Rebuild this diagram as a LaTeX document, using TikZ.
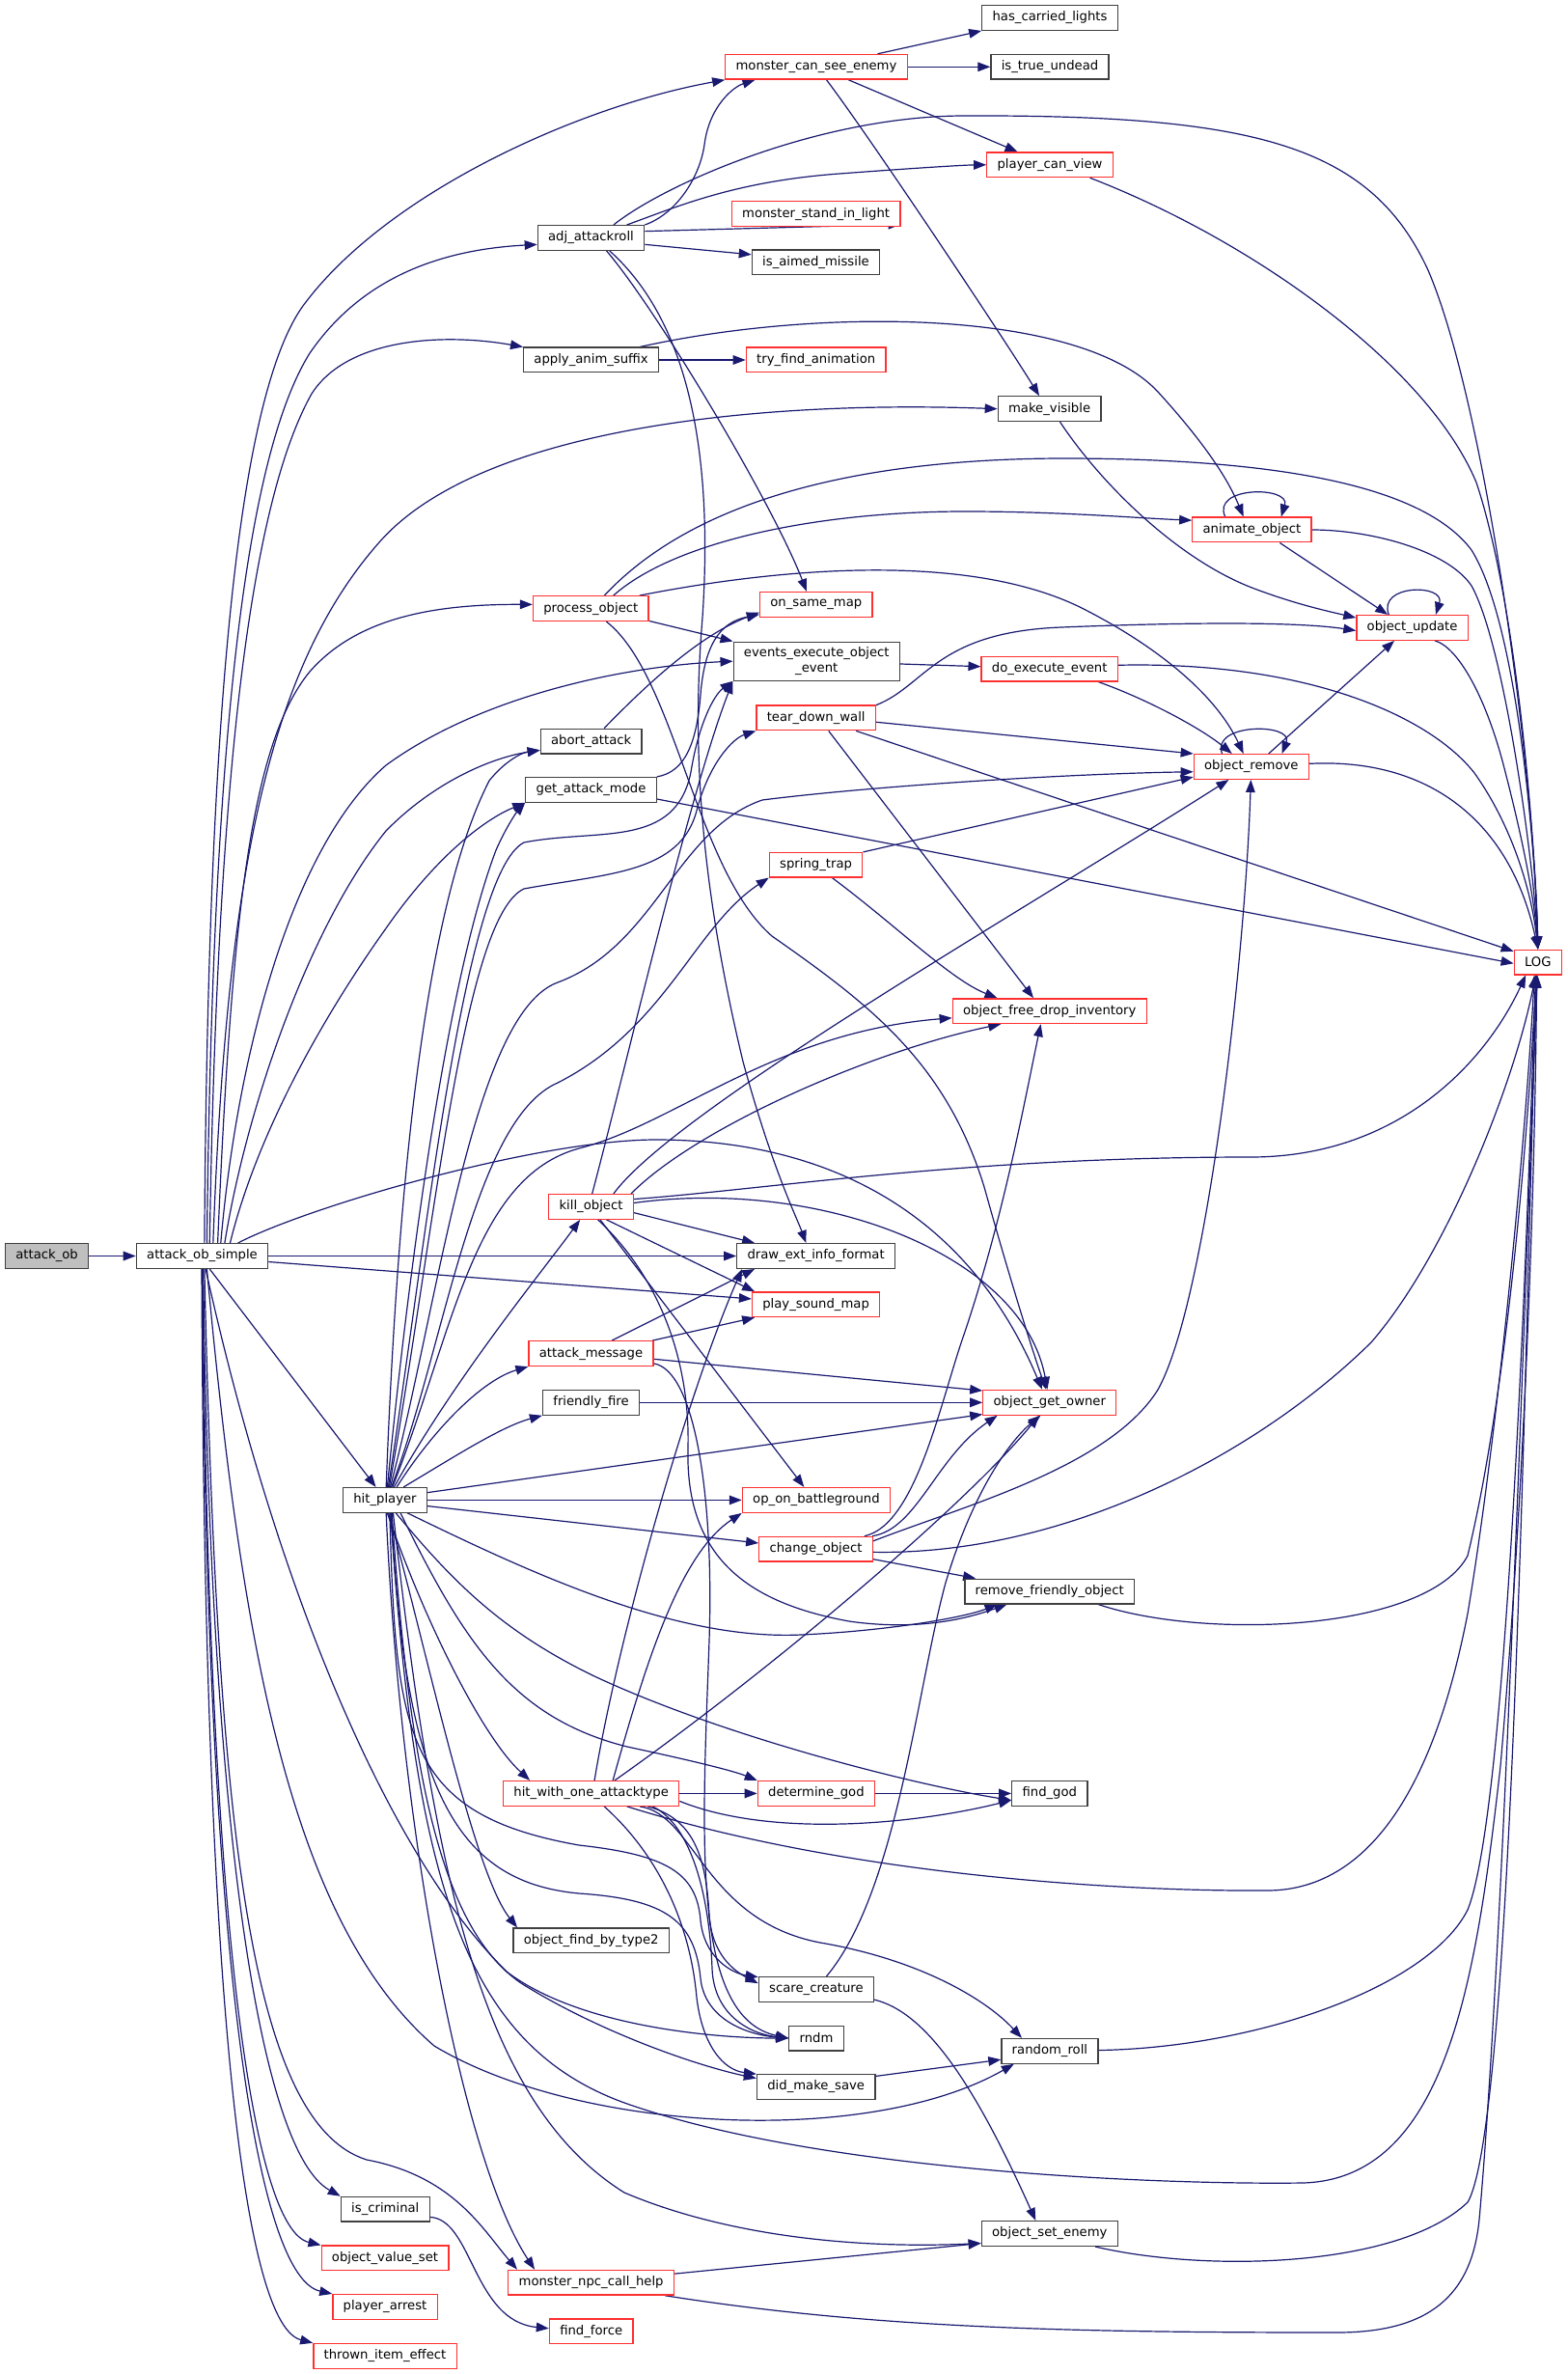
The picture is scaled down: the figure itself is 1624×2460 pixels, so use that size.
\documentclass[tikz,border=0pt]{standalone}
\usepackage{fontspec}
\setmainfont{DejaVu Sans}
\usetikzlibrary{arrows.meta,backgrounds}
\definecolor{dxblue}{HTML}{191970}
\definecolor{dxred}{HTML}{FF3030}
\definecolor{dxgrey}{HTML}{404040}
\definecolor{dxfill}{HTML}{BFBFBF}
\begin{document}
\begin{tikzpicture}[x=0.5pt,y=-0.5pt,
    callee/.style={draw=dxgrey,fill=white,line width=0.65pt,minimum height=12.85pt,inner xsep=5.4pt,inner ysep=1pt,font=\fontsize{6.6}{7.7}\selectfont},
    trunc/.style={callee,draw=dxred},
    root/.style={callee,fill=dxfill},
    call/.style={draw=dxblue,line width=0.6pt,-{Triangle[length=6.5pt,width=4.8pt]}}]
  \useasboundingbox (0,0) rectangle (1624,2460);
  \node[root] (AO) at (48.6,1301.5) {attack\_ob};
  \node[callee] (AS) at (209.5,1301.5) {attack\_ob\_simple};
  \node[callee] (HP) at (399,1554.4) {hit\_player};
  \node[callee] (HCL) at (1088,18.5) {has\_carried\_lights};
  \node[trunc] (MCSE) at (846,69.3) {monster\_can\_see\_enemy};
  \node[callee] (ITU) at (1088,69.3) {is\_true\_undead};
  \node[trunc] (PCV) at (1088,170.8) {player\_can\_view};
  \node[callee] (AAR) at (612.5,246.5) {adj\_attackroll};
  \node[trunc] (MSIL) at (845.6,221.6) {monster\_stand\_in\_light};
  \node[callee] (IAM) at (845.5,272) {is\_aimed\_missile};
  \node[callee] (AAS) at (612.6,373) {apply\_anim\_suffix};
  \node[trunc] (TFA) at (845.7,373) {try\_find\_animation};
  \node[callee] (MV) at (1087.6,423.7) {make\_visible};
  \node[trunc] (ANO) at (1297.4,549) {animate\_object};
  \node[trunc] (PO) at (612.3,630.6) {process\_object};
  \node[trunc] (OSM) at (845.8,626.4) {on\_same\_map};
  \node[callee,minimum height=20pt,align=center] (EEOE) at (846.3,685.2) {events\_execute\_object\\\_event};
  \node[trunc] (DEE) at (1087.7,693) {do\_execute\_event};
  \node[trunc] (OU) at (1463.6,650.4) {object\_update};
  \node[callee] (AA) at (612.7,768) {abort\_attack};
  \node[trunc] (TDW) at (845.7,743.9) {tear\_down\_wall};
  \node[callee] (GAM) at (612.5,818.4) {get\_attack\_mode};
  \node[trunc] (OR) at (1296.8,794.5) {object\_remove};
  \node[trunc] (ST) at (845.6,896) {spring\_trap};
  \node[trunc] (LOG) at (1593.8,997) {LOG};
  \node[trunc] (OFDI) at (1087.7,1047.7) {object\_free\_drop\_inventory};
  \node[trunc] (KO) at (612.5,1250.4) {kill\_object};
  \node[callee] (DEIF) at (845.6,1301.5) {draw\_ext\_info\_format};
  \node[trunc] (PSM) at (845.6,1351.8) {play\_sound\_map};
  \node[trunc] (AM) at (612.5,1402.6) {attack\_message};
  \node[callee] (FF) at (612.5,1453.3) {friendly\_fire};
  \node[trunc] (OGO) at (1087.8,1453.3) {object\_get\_owner};
  \node[trunc] (OOB) at (845.9,1554.4) {op\_on\_battleground};
  \node[trunc] (CO) at (845.5,1605.2) {change\_object};
  \node[callee] (RFO) at (1087.7,1649) {remove\_friendly\_object};
  \node[trunc] (HWOAT) at (612.7,1858.4) {hit\_with\_one\_attacktype};
  \node[trunc] (DG) at (845.9,1858.4) {determine\_god};
  \node[callee] (FG) at (1087.8,1858.4) {find\_god};
  \node[callee] (OFBT) at (612.7,2010.9) {object\_find\_by\_type2};
  \node[callee] (SC) at (845.9,2061.5) {scare\_creature};
  \node[callee] (RNDM) at (846,2112) {rndm};
  \node[callee] (RR) at (1087.9,2125.3) {random\_roll};
  \node[callee] (DMS) at (845.7,2162.3) {did\_make\_save};
  \node[callee] (IC) at (399.3,2289.2) {is\_criminal};
  \node[callee] (OSE) at (1087.8,2314.5) {object\_set\_enemy};
  \node[trunc] (OVS) at (399,2339.9) {object\_value\_set};
  \node[trunc] (MNCH) at (612.6,2365.2) {monster\_npc\_call\_help};
  \node[trunc] (PA) at (399,2390.4) {player\_arrest};
  \node[trunc] (FFO) at (612.7,2415.8) {find\_force};
  \node[trunc] (TIE) at (399,2441.3) {thrown\_item\_effect};
  \begin{scope}[on background layer]
  \draw[call] (AO) -- (AS);
  \draw[call] (AS.80) .. controls (215,800) and (240,420) .. (314,317) .. controls (400,200) and (600,110) .. (MCSE.south west);
  \draw[call] (AS.70) .. controls (220,800) and (250,480) .. (321,366) .. controls (380,280) and (470,258) .. (AAR.-173);
  \draw[call] (AS.60) .. controls (225,800) and (260,520) .. (323,408) .. controls (360,350) and (460,345) .. (AAS.north west);
  \draw[call] (AS.50) .. controls (235,900) and (280,690) .. (393,562) .. controls (500,440) and (800,415) .. (MV.west);
  \draw[call] (AS.40) .. controls (240,950) and (260,770) .. (321,696) .. controls (370,640) and (450,626) .. (PO.176);
  \draw[call] (AS.35) .. controls (245,1100) and (300,880) .. (400,793) .. controls (500,720) and (650,690) .. (EEOE.west);
  \draw[call] (AS.30) .. controls (255,1150) and (320,960) .. (400,861) .. controls (450,810) and (510,785) .. (AA.190);
  \draw[call] (AS.25) .. controls (265,1180) and (330,1060) .. (400,962) .. controls (450,890) and (500,850) .. (GAM.south west);
  \draw[call] (AS) -- (DEIF);
  \draw[call] (AS.-5) -- (PSM.175);
  \draw[call] (AS.20) .. controls (320,1250) and (560,1180) .. (683,1181) .. controls (850,1182) and (1000,1250) .. (OGO.120);
  \draw[call] (AS.-60) -- (HP.125);
  \draw[call] (AS.-75) .. controls (285,1640) and (400,1920) .. (525,2043) .. controls (600,2100) and (740,2112) .. (RNDM.west);
  \draw[call] (AS.-70) .. controls (250,1700) and (300,1990) .. (450,2120) .. controls (600,2210) and (900,2225) .. (RR.-160);
  \draw[call] (AS.-80) .. controls (225,1900) and (260,2200) .. (380,2238) .. controls (470,2255) and (500,2310) .. (MNCH.170);
  \draw[call] (AS.-85) .. controls (218,1900) and (270,2230) .. (IC.north west);
  \draw[call] (AS.-88) .. controls (216,2000) and (262,2310) .. (OVS.north west);
  \draw[call] (AS.-90) .. controls (214,2050) and (268,2360) .. (PA.north west);
  \draw[call] (AS.-92) .. controls (212,2100) and (255,2410) .. (TIE.north west);
  \draw[call] (HP.85) .. controls (412,1230) and (440,940) .. (507,809) .. controls (522,790) and (540,780) .. (AA.190);
  \draw[call] (HP.80) .. controls (425,1300) and (465,1010) .. (514,881) .. controls (524,858) and (535,842) .. (GAM.south west);
  \draw[call] (HP.76) .. controls (440,1300) and (480,905) .. (543,873) .. controls (620,858) and (700,880) .. (716,800) .. controls (724,750) and (740,720) .. (EEOE.south west);
  \draw[call] (HP.72) .. controls (450,1280) and (480,950) .. (543,921) .. controls (630,905) and (705,905) .. (722,840) .. controls (735,790) and (760,765) .. (TDW.south west);
  \draw[call] (HP.68) .. controls (455,1350) and (490,1050) .. (578,1018) .. controls (680,980) and (700,860) .. (790,829) .. controls (900,815) and (1100,802) .. (OR.185);
  \draw[call] (HP.64) .. controls (460,1400) and (490,1160) .. (578,1122) .. controls (690,1065) and (720,960) .. (ST.south west);
  \draw[call] (HP.60) .. controls (470,1380) and (490,1220) .. (600,1190) .. controls (700,1165) and (800,1070) .. (OFDI.184);
  \draw[call] (HP.55) .. controls (470,1430) and (560,1320) .. (KO.-130);
  \draw[call] (HP.48) .. controls (450,1480) and (500,1430) .. (AM.south west);
  \draw[call] (HP.35) .. controls (470,1510) and (520,1478) .. (FF.south west);
  \draw[call] (HP.10) -- (OGO.-170);
  \draw[call] (HP) -- (OOB);
  \draw[call] (HP.-8) -- (CO.174);
  \draw[call] (HP.-30) .. controls (550,1630) and (700,1700) .. (830,1694) .. controls (920,1690) and (1000,1676) .. (RFO.-166);
  \draw[call] (HP.-80) .. controls (440,1680) and (500,1800) .. (HWOAT.168);
  \draw[call] (HP.-40) .. controls (480,1700) and (530,1780) .. (650,1810) .. controls (720,1825) and (760,1835) .. (DG.north west);
  \draw[call] (HP.-50) .. controls (470,1640) and (520,1690) .. (614,1736) .. controls (750,1800) and (950,1850) .. (FG.-170);
  \draw[call] (HP.-75) .. controls (440,1700) and (490,1940) .. (OFBT.170);
  \draw[call] (HP.-70) .. controls (410,1800) and (420,1880) .. (600,1912) .. controls (690,1922) and (722,1940) .. (726,1990) .. controls (730,2030) and (760,2045) .. (SC.168);
  \draw[call] (HP.-65) .. controls (420,1850) and (470,1950) .. (600,1962) .. controls (690,1968) and (720,1990) .. (726,2050) .. controls (730,2090) and (770,2108) .. (RNDM.west);
  \draw[call] (HP.-62) .. controls (425,1850) and (460,2000) .. (540,2055) .. controls (620,2105) and (720,2140) .. (DMS.172);
  \draw[call] (HP.-85) .. controls (415,1900) and (480,2240) .. (MNCH.167);
  \draw[call] (HP.-58) .. controls (450,1950) and (500,2180) .. (647,2272) .. controls (760,2320) and (900,2330) .. (OSE.-172);
  \draw[call] (HP.-67) .. controls (430,1950) and (480,2120) .. (650,2180) .. controls (850,2250) and (1200,2264) .. (1350,2262) .. controls (1500,2258) and (1530,2050) .. (1555,1830) .. controls (1575,1600) and (1590,1300) .. (LOG.-95);
  \draw[call] (KO.85) .. controls (650,1100) and (715,820) .. (EEOE.south west);
  \draw[call] (KO.30) .. controls (700,1150) and (1050,950) .. (OR.-150);
  \draw[call] (KO.18) .. controls (720,1170) and (900,1090) .. (OFDI.-165);
  \draw[call] (KO.10) .. controls (800,1232) and (1000,1199) .. (1296,1199) .. controls (1450,1199) and (1540,1100) .. (LOG.-133);
  \draw[call] (KO.5) .. controls (850,1220) and (1060,1300) .. (OGO.100);
  \draw[call] (KO.-8) -- (DEIF.168);
  \draw[call] (KO.-40) -- (PSM.168);
  \draw[call] (KO.-55) -- (OOB.133);
  \draw[call] (KO.-62) .. controls (690,1330) and (715,1420) .. (713,1500) .. controls (710,1610) and (770,1660) .. (880,1680) .. controls (950,1690) and (1000,1678) .. (RFO.-163);
  \draw[call] (AM.32) -- (DEIF.-168);
  \draw[call] (AM.12) -- (PSM.-168);
  \draw[call] (AM.-5) -- (OGO.170);
  \draw[call] (AM.-9) .. controls (720,1420) and (740,1550) .. (735,1700) .. controls (728,1900) and (715,2090) .. (RNDM.west);
  \draw[call] (FF) -- (OGO);
  \draw[call] (CO.13) .. controls (950,1585) and (970,1510) .. (OGO.-166);
  \draw[call] (CO.15) .. controls (950,1580) and (975,1450) .. (1000,1380) .. controls (1040,1260) and (1060,1150) .. (OFDI.-124);
  \draw[call] (CO.8) .. controls (1000,1560) and (1150,1520) .. (1200,1440) .. controls (1250,1350) and (1290,1000) .. (OR.-92);
  \draw[call] (CO.-3) .. controls (1100,1612) and (1300,1510) .. (1421,1391) .. controls (1500,1300) and (1570,1120) .. (LOG.-100);
  \draw[call] (CO.-10) -- (RFO.170);
  \draw[call] (RFO.-15) .. controls (1250,1700) and (1480,1690) .. (1521,1612) .. controls (1560,1450) and (1582,1200) .. (LOG.-97);
  \draw[call] (HWOAT.76) .. controls (640,1700) and (710,1450) .. (DEIF.-170);
  \draw[call] (HWOAT.31) .. controls (670,1720) and (705,1610) .. (OOB.south west);
  \draw[call] (HWOAT.29) .. controls (800,1730) and (1000,1560) .. (OGO.-129);
  \draw[call] (HWOAT) -- (DG);
  \draw[call] (HWOAT.-5) .. controls (800,1905) and (950,1890) .. (FG.-170);
  \draw[call] (HWOAT.-20) .. controls (900,1950) and (1200,1960) .. (1314,1959) .. controls (1450,1958) and (1500,1780) .. (1521,1672) .. controls (1550,1500) and (1580,1200) .. (LOG.-105);
  \draw[call] (HWOAT.-13) .. controls (722,1885) and (732,1930) .. (735,1985) .. controls (738,2025) and (760,2042) .. (SC.174);
  \draw[call] (HWOAT.-12) .. controls (715,1890) and (735,1960) .. (738,2040) .. controls (740,2090) and (780,2108) .. (RNDM.west);
  \draw[call] (HWOAT.-15) .. controls (720,1880) and (730,1990) .. (850,2013) .. controls (950,2030) and (1020,2070) .. (RR.155);
  \draw[call] (HWOAT.-45) .. controls (680,1920) and (715,1990) .. (722,2070) .. controls (728,2120) and (750,2145) .. (DMS.168);
  \draw[call] (DG) -- (FG);
  \draw[call] (SC.52) .. controls (930,1960) and (950,1750) .. (980,1640) .. controls (1010,1540) and (1050,1490) .. (OGO.-125);
  \draw[call] (SC.-10) .. controls (960,2085) and (1010,2160) .. (OSE.137);
  \draw[call] (DMS.10) -- (RR.190);
  \draw[call] (RR) .. controls (1300,2122) and (1480,2060) .. (1521,1979) .. controls (1565,1870) and (1585,1200) .. (LOG.-100);
  \draw[call] (OSE.-16) .. controls (1250,2355) and (1450,2350) .. (1521,2282) .. controls (1570,2200) and (1582,1300) .. (LOG.-95);
  \draw[call] (MNCH.6) -- (OSE.-172);
  \draw[call] (MNCH.-10) .. controls (900,2412) and (1100,2417) .. (1385,2417) .. controls (1480,2417) and (1525,2380) .. (1533,2300) .. controls (1560,2000) and (1585,1200) .. (LOG.-92);
  \draw[call] (IC.-10) .. controls (490,2300) and (490,2405) .. (FFO.176);
  \draw[call] (MCSE.12) -- (HCL.south west);
  \draw[call] (MCSE) -- (ITU);
  \draw[call] (MCSE.-22) -- (PCV.158);
  \draw[call] (MCSE.-52) .. controls (900,140) and (1040,350) .. (MV.128);
  \draw[call] (AAR.north east) .. controls (700,222) and (725,185) .. (730,150) .. controls (735,110) and (760,90) .. (MCSE.-168);
  \draw[call] (AAR.20) .. controls (700,215) and (760,188) .. (870,180) .. controls (950,174) and (1000,171) .. (PCV.west);
  \draw[call] (AAR.30) .. controls (690,190) and (850,120) .. (1000,120) .. controls (1300,119) and (1420,150) .. (1480,280) .. controls (1540,420) and (1590,800) .. (LOG.north);
  \draw[call] (AAR.7) -- (MSIL.-7);
  \draw[call] (AAR.-7) -- (IAM.173);
  \draw[call] (AAR.-40) .. controls (680,320) and (800,520) .. (OSM.126);
  \draw[call] (AAR.-35) .. controls (710,330) and (740,460) .. (728,640) .. controls (718,760) and (722,900) .. (770,1100) .. controls (800,1210) and (825,1260) .. (DEIF.127);
  \draw[call] (AAS) -- (TFA);
  \draw[call] (AAS.15) .. controls (850,318) and (1120,320) .. (1200,406) .. controls (1240,450) and (1270,490) .. (ANO.123);
  \draw[call] (PCV.-18) .. controls (1300,250) and (1480,380) .. (1530,500) .. controls (1570,620) and (1590,850) .. (LOG.north);
  \draw[call] (MV.-51) .. controls (1140,500) and (1220,580) .. (1300,610) .. controls (1340,625) and (1370,632) .. (OU.170);
  \draw[call] (ANO.154) .. controls +(-15,-32) and +(10,-32) .. (ANO.24);
  \draw[call] (ANO.-25) -- (OU.152);
  \draw[call] (ANO) .. controls (1420,549) and (1500,570) .. (1525,607) .. controls (1560,670) and (1590,900) .. (LOG.north);
  \draw[call] (PO.30) .. controls (700,560) and (850,530) .. (1000,530) .. controls (1100,530) and (1180,537) .. (ANO.171);
  \draw[call] (PO.44) .. controls (680,560) and (800,476) .. (1100,475) .. controls (1350,475) and (1480,510) .. (1525,570) .. controls (1575,650) and (1592,900) .. (LOG.north);
  \draw[call] (PO.15) .. controls (800,590) and (1000,570) .. (1121,630) .. controls (1200,670) and (1260,720) .. (OR.121);
  \draw[call] (PO.-12) -- (EEOE.north west);
  \draw[call] (PO.-40) .. controls (700,700) and (720,900) .. (800,970) .. controls (900,1040) and (980,1100) .. (1020,1230) .. controls (1045,1320) and (1070,1400) .. (OGO.105);
  \draw[call] (EEOE) -- (DEE);
  \draw[call] (DEE.-15) .. controls (1190,725) and (1245,755) .. (OR.146);
  \draw[call] (DEE.3) .. controls (1350,685) and (1480,740) .. (1528,801) .. controls (1570,860) and (1588,930) .. (LOG.north);
  \draw[call] (OU.151) .. controls +(-12,-32) and +(10,-32) .. (OU.29);
  \draw[call] (OU.-30) .. controls (1510,670) and (1540,720) .. (1560,800) .. controls (1578,870) and (1590,930) .. (LOG.north);
  \draw[call] (AA.45) .. controls (660,720) and (720,660) .. (OSM.-172);
  \draw[call] (TDW.12) .. controls (960,710) and (970,655) .. (1100,650) .. controls (1250,644) and (1350,645) .. (OU.183);
  \draw[call] (TDW.-4) -- (OR.north west);
  \draw[call] (TDW.-18) -- (LOG.156);
  \draw[call] (TDW.-46) -- (OFDI.141);
  \draw[call] (GAM.north east) .. controls (710,800) and (722,770) .. (726,720) .. controls (730,670) and (745,645) .. (OSM.-170);
  \draw[call] (GAM.-8) -- (LOG.183);
  \draw[call] (ST.15) -- (OR.-170);
  \draw[call] (ST.-39) .. controls (930,960) and (985,1015) .. (OFDI.166);
  \draw[call] (OR.156) .. controls +(-12,-32) and +(12,-32) .. (OR.23);
  \draw[call] (OR.37) -- (OU.-144);
  \draw[call] (OR.3) .. controls (1480,785) and (1565,850) .. (LOG.north);
  \end{scope}
\end{tikzpicture}
\end{document}
